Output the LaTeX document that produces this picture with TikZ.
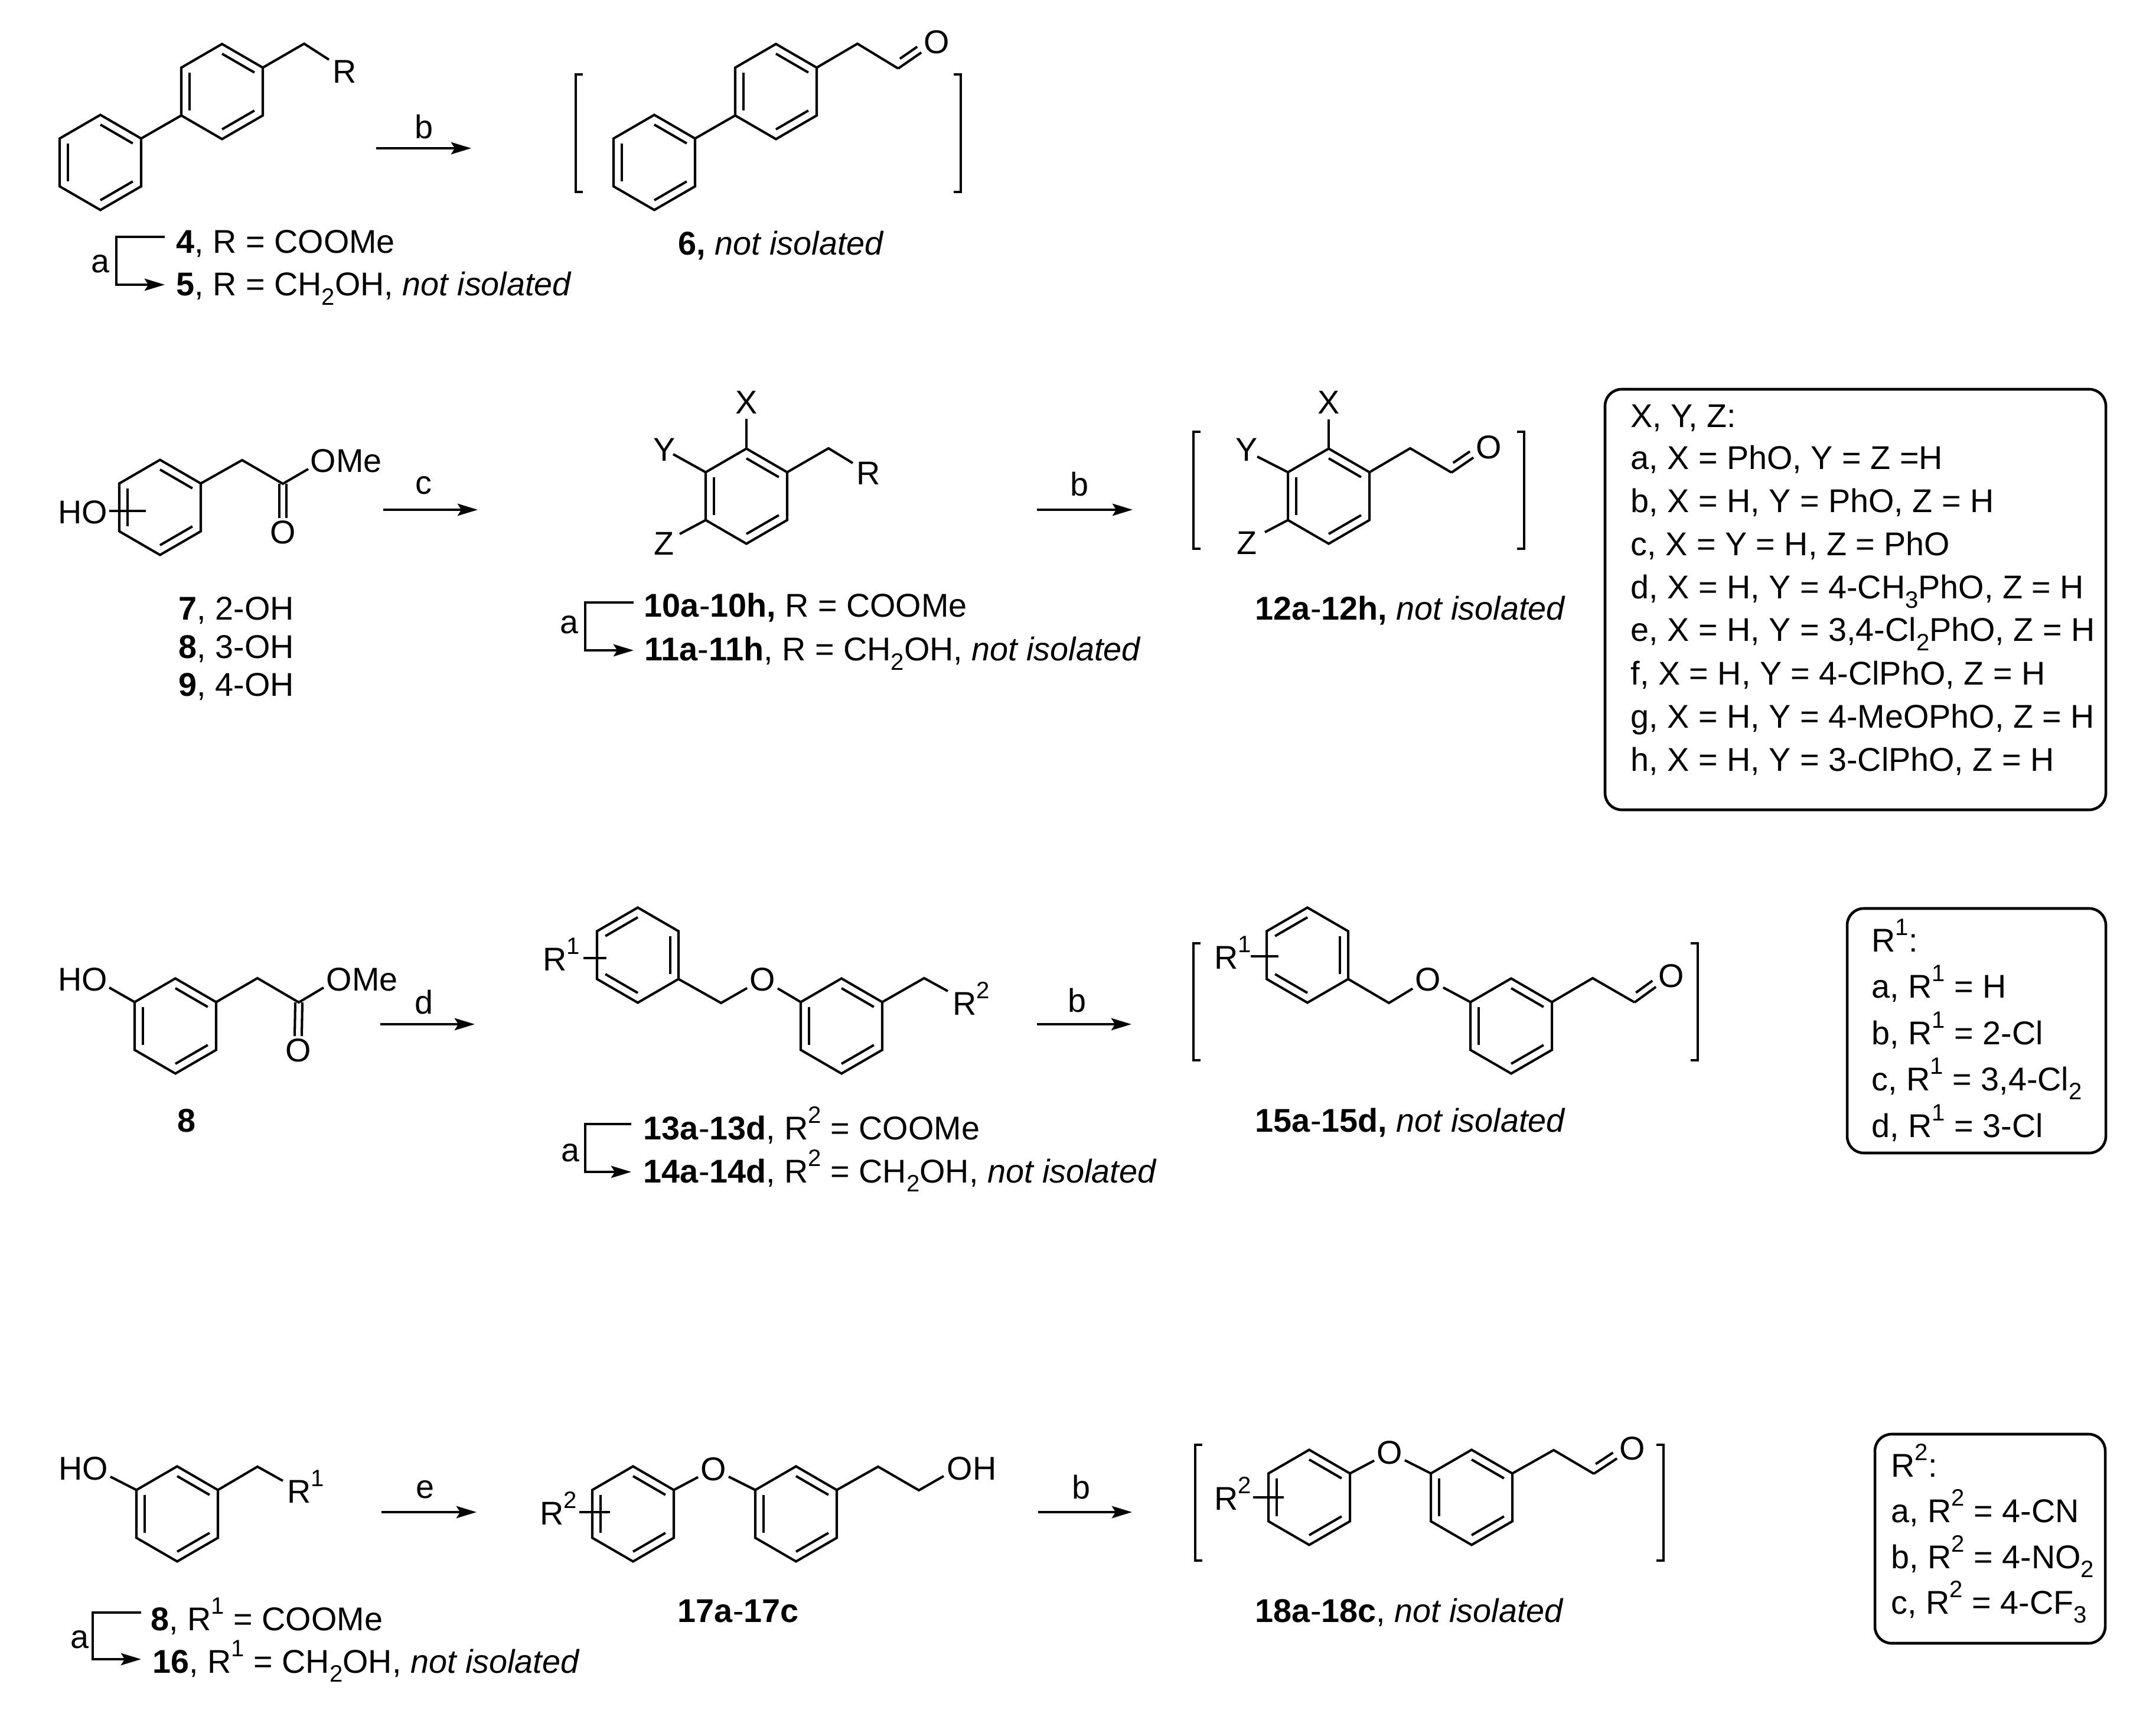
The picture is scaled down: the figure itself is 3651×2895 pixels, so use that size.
\documentclass[tikz,border=0pt]{standalone}
\usepackage{fontspec}
\setmainfont{Liberation Sans}
\usetikzlibrary{calc,arrows.meta}
\newcommand\spr[1]{\raisebox{.5em}{\fontsize{11.4}{11.4}\selectfont #1}}
\newcommand\sbs[1]{\raisebox{-.27em}{\fontsize{11.4}{11.4}\selectfont #1}}
\newcommand\notiso{\itshape not isolated}
\tikzset{
  bond/.style={line width=1.15pt,line join=miter,line cap=butt},
  inbond/.style={bond},
  txt/.style={inner sep=0pt,font=\fontsize{15.85}{17}\selectfont},
  lb/.style={txt,anchor=base west},
  cn/.style={txt,anchor=base},
  atm/.style={txt,inner sep=1pt,anchor=center},
  rxarrow/.style={line width=1.15pt,-{Stealth[length=9.7pt,width=5.8pt,inset=1.8pt]}},
  panel/.style={line width=1.3pt,rounded corners=8pt}
}
\newcommand\rng[3]{%
  \coordinate (#1c) at (#2,#3);
  \coordinate (#11) at (#2,#3-80.5);
  \coordinate (#12) at (#2+69,#3-40.5);
  \coordinate (#13) at (#2+69,#3+40.5);
  \coordinate (#14) at (#2,#3+80.5);
  \coordinate (#15) at (#2-69,#3+40.5);
  \coordinate (#16) at (#2-69,#3-40.5);
  \draw[bond] (#11)--(#12)--(#13)--(#14)--(#15)--(#16)--cycle;
}
\newcommand\dbl[3]{\draw[inbond] ($(#1#2)!.205!(#1c)$) -- ($(#1#3)!.205!(#1c)$);}
\newcommand\dblA[1]{\dbl{#1}{1}{2}\dbl{#1}{3}{4}\dbl{#1}{5}{6}}
\newcommand\dblB[1]{\dbl{#1}{1}{6}\dbl{#1}{2}{3}\dbl{#1}{5}{4}}
\newcommand\brk[4]{%
  \draw[bond] (#1+12,#3)--(#1,#3)--(#1,#4)--(#1+12,#4);
  \draw[bond] (#2-12,#3)--(#2,#3)--(#2,#4)--(#2-12,#4);
}
% name, C coordinate, O node: carbonyl drawn on the aldehyde carbon
\newcommand\cho[2]{%
  \draw[bond] (#1) -- (#2);
  \coordinate (#1n) at ($(#1)!.15!(#2)$);
  \coordinate (#1m) at ($(#1)!.60!(#2)$);
  \draw[bond] ($(#1n)!3.4pt!90:(#2)$) -- ($(#1m)!3.4pt!90:(#2)$);
}
% name, x1, x2, y, label, label x, label baseline
\newcommand\rxn[7]{%
  \coordinate (#1s) at (#2,#4);
  \coordinate (#1e) at (#3,#4);
  \draw[rxarrow] (#1s) -- (#1e);
  \node[cn] (#1l) at (#6,#7) {#5};
}
% name, x left, x right, y top, y bottom, label x, label baseline
\newcommand\redu[7]{%
  \coordinate (#1s) at (#3,#4);
  \coordinate (#1k) at (#2,#4);
  \coordinate (#1j) at (#2,#5);
  \coordinate (#1e) at (#3,#5);
  \draw[rxarrow] (#1s) -- (#1k) -- (#1j) -- (#1e);
  \node[cn] (#1l) at (#6,#7) {a};
}
\begin{document}
\begin{tikzpicture}[x=0.01cm,y=-0.01cm]
\useasboundingbox (0,0) rectangle (3651,2895);
\fill[white] (0,0) rectangle (3651,2895);

% ---------- row 1
\rng{a}{170}{275}\dblA{a}
\rng{b}{376}{155}\dblA{b}
\draw[bond] (a2)--(b5);
\draw[bond] (b2)--(515,74)--(557,101);
\node[lb] (rA) at (563,141) {R};
\rxn{ra}{637}{798}{251}{b}{718}{235}
\redu{ra2}{197}{279}{401}{482}{170}{462}
\node[lb] (t4) at (298,429) {\textbf{4}, R = COOMe};
\node[lb] (t5) at (298,501) {\textbf{5}, R = CH\sbs{2}OH, {\notiso}};

\rng{c}{1108}{275}\dblA{c}
\rng{d}{1314}{155}\dblA{d}
\draw[bond] (c2)--(d5);
\coordinate (c6x) at (1521,116);
\node[atm] (o6) at (1586,71) {O};
\draw[bond] (d2)--(1452,74)--(c6x);
\cho{c6x}{o6}
\brk{975}{1627}{126}{325}
\node[lb] (t6) at (1148,432) {\textbf{6,} {\notiso}};

% ---------- row 2
\rng{e}{271}{859}\dblA{e}
\draw[bond] (e2)--(410,779)--(479,819)--(522,794);
\coordinate (e7) at (479,819);
\node[lb] (ome1) at (525,800) {OMe};
\node[atm] (o7) at (479,901) {O};
\draw[bond] ($(e7)+(-6,0)$) -- ($(o7.north)+(-6,0)$);
\draw[bond] ($(e7)+(6,0)$) -- ($(o7.north)+(6,0)$);
\node[lb] (ho1) at (98,887) {HO};
\draw[bond] (185,865) -- (247,865);
\rxn{rc}{649}{809}{863}{c}{717}{837}
\node[lb] (t7) at (302,1050) {\textbf{7}, 2-OH};
\node[lb] (t8) at (302,1115) {\textbf{8}, 3-OH};
\node[lb] (t9) at (302,1179) {\textbf{9}, 4-OH};

\rng{f}{1264}{840}\dblA{f}
\node[cn] (fx) at (1264,701) {X};
\node[cn] (fy) at (1125,781) {Y};
\node[cn] (fz) at (1125,940) {Z};
\node[lb] (fr) at (1450,821) {R};
\draw[bond] (f1)--(1264,709);
\draw[bond] (f6)--(1140,769);
\draw[bond] (f5)--(1151,904);
\draw[bond] (f2)--(1403,759)--(1444,784);
\redu{rb2}{991}{1073}{1020}{1101}{964}{1073}
\node[lb] (t10) at (1090,1045) {\textbf{10a}-\textbf{10h,} R = COOMe};
\node[lb] (t11) at (1091,1119) {\textbf{11a}-\textbf{11h}, R = CH\sbs{2}OH, {\notiso}};

\rxn{rb}{1756}{1918}{863}{b}{1828}{840}
\rng{g}{2250}{840}\dblA{g}
\node[cn] (gx) at (2250,701) {X};
\node[cn] (gy) at (2111,781) {Y};
\node[cn] (gz) at (2111,939) {Z};
\draw[bond] (g1)--(2250,710);
\draw[bond] (g6)--(2129,773);
\draw[bond] (g5)--(2142,901);
\coordinate (g7) at (2458,800);
\node[atm] (o12) at (2521,757) {O};
\draw[bond] (g2)--(2388,759)--(g7);
\cho{g7}{o12}
\brk{2021}{2581}{731}{929}
\node[lb] (t12) at (2125,1050) {\textbf{12a}-\textbf{12h,} {\notiso}};

\draw[panel] (2718,659) rectangle (3566,1371);
\node[lb] (x0) at (2761,724) {X, Y, Z:};
\node[lb] (xa) at (2761,795) {a, X = PhO, Y = Z =H};
\node[lb] (xb) at (2761,868) {b, X = H, Y = PhO, Z = H};
\node[lb] (xc) at (2761,941) {c, X = Y = H, Z = PhO};
\node[lb] (xd) at (2761,1014) {d, X = H, Y = 4-CH\sbs{3}PhO, Z = H};
\node[lb] (xe) at (2761,1086) {e, X = H, Y = 3,4-Cl\sbs{2}PhO, Z = H};
\node[lb] (xf) at (2761,1160) {f, X = H, Y = 4-ClPhO, Z = H};
\node[lb] (xg) at (2761,1233) {g, X = H, Y = 4-MeOPhO, Z = H};
\node[lb] (xh) at (2761,1306) {h, X = H, Y = 3-ClPhO, Z = H};

% ---------- row 3
\rng{h}{297}{1737}\dblA{h}
\node[lb] (ho2) at (98,1677) {HO};
\draw[bond] (h6)--(185,1672);
\coordinate (h7) at (506,1697);
\draw[bond] (h2)--(436,1656)--(h7)--(548,1672);
\node[lb] (ome2) at (552,1677) {OMe};
\node[atm] (o8) at (505,1778) {O};
\draw[bond] ($(h7)+(-6,0)$) -- ($(o8.north)+(-6,0)$);
\draw[bond] ($(h7)+(6,0)$) -- ($(o8.north)+(6,0)$);
\rxn{rd}{644}{804}{1734}{d}{718}{1716}
\node[cn] (t8b) at (316,1916) {\textbf{8}};

\rng{i}{1080}{1617}\dblB{i}
\rng{j}{1425}{1737}\dblA{j}
\node[lb] (r1a) at (919,1643) {R\spr{1}};
\draw[bond] (988,1622)--(1027,1622);
\node[atm] (oi) at (1291,1658) {O};
\draw[bond] (i3)--(1221,1698)--(oi);
\draw[bond] (oi)--(j6);
\draw[bond] (j2)--(1565,1656)--(1605,1678);
\node[lb] (r2a) at (1613,1718) {R\spr{2}};
\rxn{rb3}{1756}{1916}{1734}{b}{1824}{1713}
\redu{rd2}{991}{1069}{1903}{1984}{966}{1966}
\node[lb] (t13) at (1089,1929) {\textbf{13a}-\textbf{13d}, R\spr{2} = COOMe};
\node[lb] (t14) at (1089,2002) {\textbf{14a}-\textbf{14d}, R\spr{2} = CH\sbs{2}OH, {\notiso}};

\rng{k}{2214}{1617}\dblB{k}
\rng{l}{2559}{1737}\dblA{l}
\node[lb] (r1b) at (2056,1640) {R\spr{1}};
\draw[bond] (2118,1619)--(2165,1619);
\node[atm] (ok) at (2418,1658) {O};
\draw[bond] (k3)--(2352,1698)--(ok);
\draw[bond] (ok)--(l6);
\coordinate (l7) at (2768,1697);
\node[atm] (o15) at (2830,1652) {O};
\draw[bond] (l2)--(2697,1656)--(l7);
\cho{l7}{o15}
\brk{2021}{2875}{1597}{1795}
\node[lb] (t15) at (2125,1916) {\textbf{15a}-\textbf{15d,} {\notiso}};

\draw[panel] (3128,1538) rectangle (3566,1952);
\node[lb] (ya0) at (3169,1611) {R\spr{1}:};
\node[lb] (ya) at (3169,1689) {a, R\spr{1} = H};
\node[lb] (yb) at (3169,1768) {b, R\spr{1} = 2-Cl};
\node[lb] (yc) at (3169,1846) {c, R\spr{1} = 3,4-Cl\sbs{2}};
\node[lb] (yd) at (3169,1925) {d, R\spr{1} = 3-Cl};

% ---------- row 4
\rng{m}{300}{2563}\dblA{m}
\node[lb] (ho3) at (99,2505) {HO};
\draw[bond] (m6)--(187,2500);
\draw[bond] (m2)--(436,2483)--(479,2507);
\node[lb] (r1c) at (486,2544) {R\spr{1}};
\rxn{re}{646}{807}{2560}{e}{720}{2536}
\redu{rm2}{157}{239}{2730}{2809}{135}{2790}
\node[lb] (t8c) at (255,2760) {\textbf{8}, R\spr{1} = COOMe};
\node[lb] (t16) at (258,2832) {\textbf{16}, R\spr{1} = CH\sbs{2}OH, {\notiso}};

\rng{n}{1072}{2563}\dblA{n}
\rng{p}{1348}{2563}\dblA{p}
\node[lb] (r2c) at (914,2581) {R\spr{2}};
\draw[bond] (981,2560)--(1033,2560);
\node[atm] (on) at (1208,2487) {O};
\draw[bond] (n2)--(on);
\draw[bond] (on)--(p6);
\draw[bond] (p2)--(1487,2483)--(1556,2523)--(1598,2499);
\node[lb] (oh1) at (1603,2505) {OH};
\node[lb] (t17) at (1147,2746) {\textbf{17a}-\textbf{17c}};

\rxn{rb4}{1758}{1917}{2560}{b}{1831}{2537}
\rng{q}{2217}{2535}\dblA{q}
\rng{s}{2492}{2535}\dblA{s}
\node[lb] (r2d) at (2056,2556) {R\spr{2}};
\draw[bond] (2122,2535)--(2174,2535);
\node[atm] (oq) at (2353,2459) {O};
\draw[bond] (q2)--(oq);
\draw[bond] (oq)--(s6);
\coordinate (s7) at (2699,2495);
\node[atm] (o18) at (2764,2452) {O};
\draw[bond] (s2)--(2631,2455)--(s7);
\cho{s7}{o18}
\brk{2024}{2817}{2446}{2642}
\node[lb] (t18) at (2125,2746) {\textbf{18a}-\textbf{18c}, {\notiso}};

\draw[panel] (3175,2428) rectangle (3565,2782);
\node[lb] (za0) at (3202,2500) {R\spr{2}:};
\node[lb] (za) at (3202,2577) {a, R\spr{2} = 4-CN};
\node[lb] (zb) at (3202,2655) {b, R\spr{2} = 4-NO\sbs{2}};
\node[lb] (zc) at (3202,2732) {c, R\spr{2} = 4-CF\sbs{3}};
\end{tikzpicture}
\end{document}
